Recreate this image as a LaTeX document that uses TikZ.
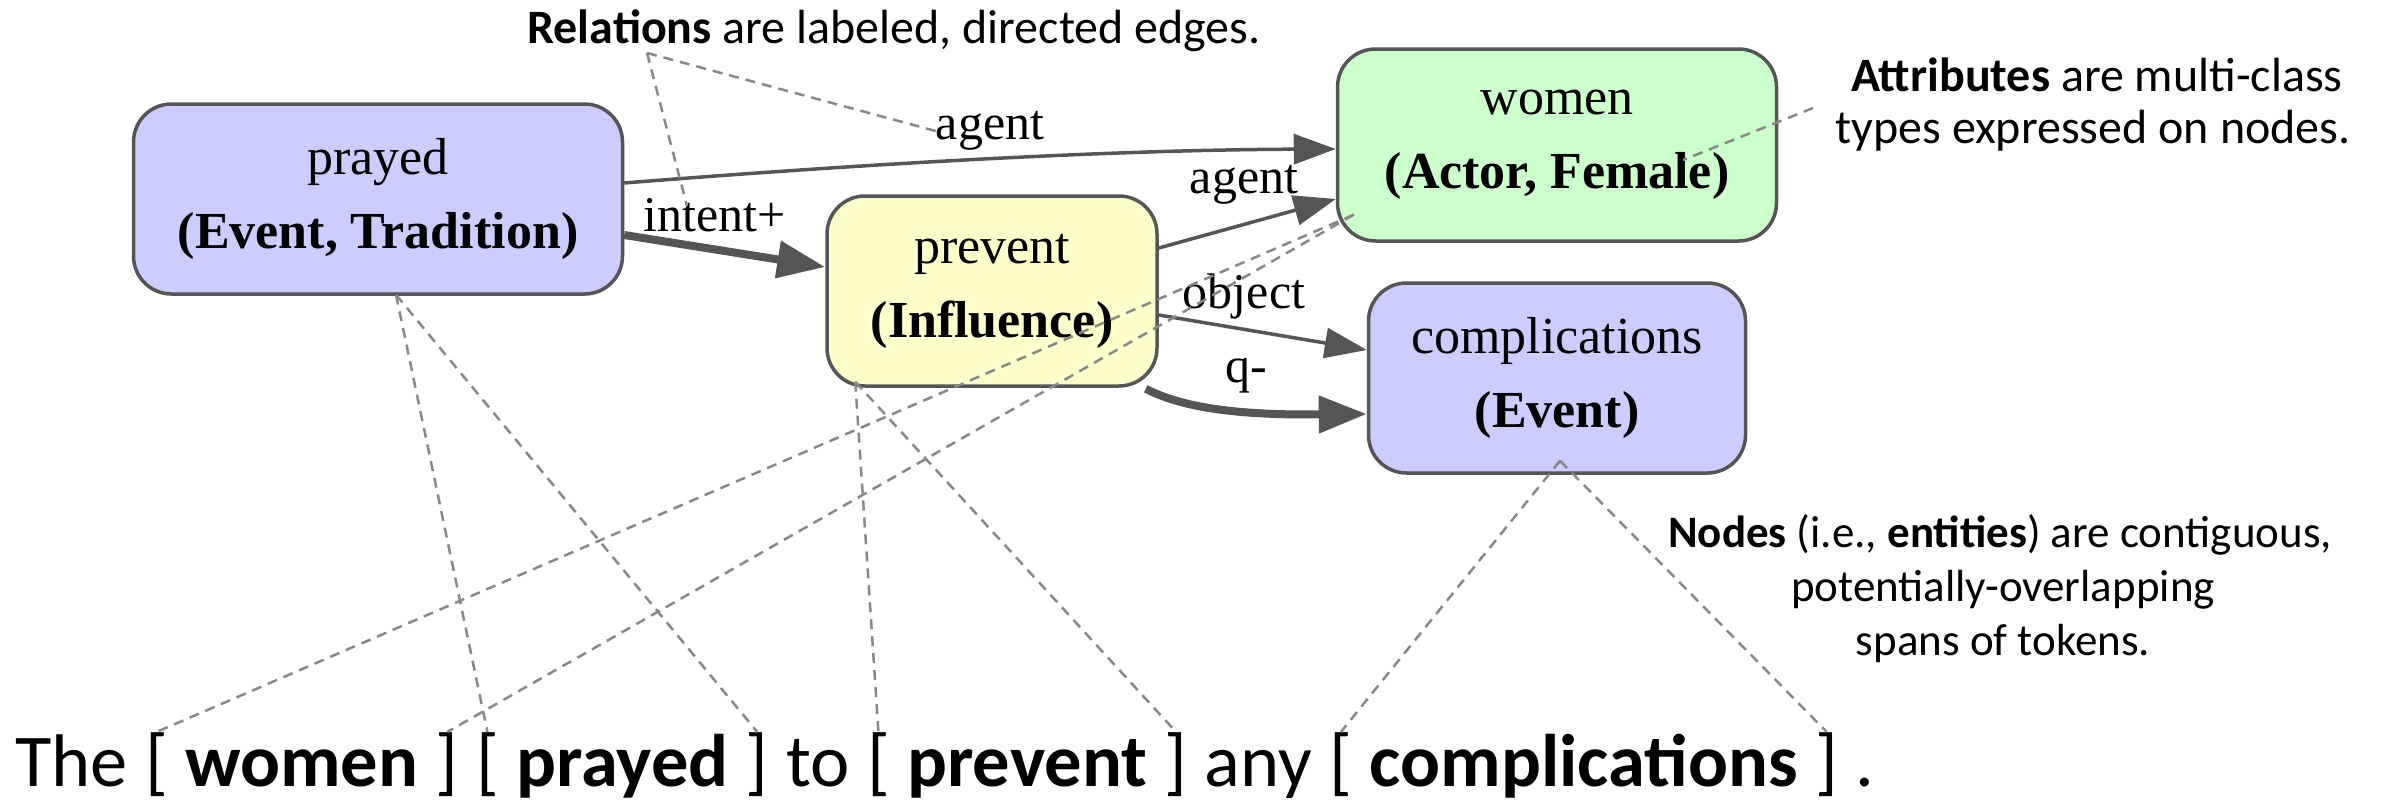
\documentclass[tikz,border=0pt]{standalone}
\usepackage{fontspec}
\setmainfont{Liberation Serif}
\newfontfamily\notefont{Carlito}
\usetikzlibrary{arrows.meta,calc}

\definecolor{edgegray}{HTML}{555555}
\definecolor{dashgray}{HTML}{888888}
\definecolor{lavender}{HTML}{CCCCFF}
\definecolor{mint}{HTML}{CCFFCC}
\definecolor{cream}{HTML}{FFFFCC}

\tikzset{
  ent/.style={draw=edgegray, line width=3.5pt, rounded corners=38pt,
    align=center, inner sep=0pt, font=\fontsize{52}{74}\selectfont},
  elabel/.style={inner sep=0pt, font=\fontsize{50}{60}\selectfont},
  edge/.style={draw=edgegray, line width=3.5pt,
    -{Triangle[length=42pt,width=30pt]}},
  thickedge/.style={draw=edgegray, line width=8pt,
    -{Triangle[length=48pt,width=36pt]}},
  spanline/.style={draw=dashgray, line width=2.5pt, dash pattern=on 10pt off 7pt},
  note/.style={inner sep=0pt, align=center, font=\notefont\fontsize{48}{54}\selectfont},
  smallnote/.style={note, font=\notefont\fontsize{45}{54}\selectfont},
  tok/.style={inner sep=0pt, anchor=base west, font=\notefont\fontsize{74.5}{84}\selectfont},
}

\begin{document}
\begin{tikzpicture}[x=1pt,y=-1pt]
\useasboundingbox (0,0) rectangle (2387,806);

% entity nodes
\node[ent, fill=lavender, minimum width=489pt, minimum height=190pt] (prayed) at (378,199)
  {prayed\\\textbf{(Event, Tradition)}};
\node[ent, fill=mint, minimum width=439pt, minimum height=192pt] (women) at (1557,145)
  {women\\\textbf{(Actor, Female)}};
\node[ent, fill=cream, minimum width=330pt, minimum height=190pt] (prevent) at (992,291)
  {prevent\\\textbf{(Influence)}};
\node[ent, fill=lavender, minimum width=377pt, minimum height=190pt] (compl) at (1557,378)
  {complications\\\textbf{(Event)}};

% relation labels
\node[elabel] (l-agent1) at (990,131) {agent};
\node[elabel] (l-intent) at (715,215) {intent+};
\node[elabel] (l-agent2) at (1244,185) {agent};
\node[elabel] (l-object) at (1244,296) {object};
\node[elabel] (l-q) at (1246,376) {q-};

% relations
\draw[edge] ($(prayed.east)+(0,-16)$) .. controls (850,165) and (1100,150) .. ($(women.west)+(0,4)$);
\draw[thickedge] ($(prayed.east)+(0,36)$) -- ($(prevent.west)+(0,-24)$);
\draw[edge] ($(prevent.east)+(0,-43)$) -- ($(women.west)+(0,54)$);
\draw[edge] ($(prevent.east)+(0,24)$) -- ($(compl.west)+(0,-28)$);
\draw[thickedge] ($(prevent.south east)+(-13,1)$) .. controls (1190,412) and (1260,415) .. ($(compl.west)+(0,36)$);

% sentence tokens
\def\sp{17}
\node[tok] (s-the) at (15,786) {The};
\node[tok] (s-ob1) at ($(s-the.base east)+(\sp,0)$) {[};
\node[tok] (s-women) at ($(s-ob1.base east)+(\sp,0)$) {\textbf{women}};
\node[tok] (s-cb1) at ($(s-women.base east)+(\sp,0)$) {]};
\node[tok] (s-ob2) at ($(s-cb1.base east)+(\sp,0)$) {[};
\node[tok] (s-prayed) at ($(s-ob2.base east)+(\sp,0)$) {\textbf{prayed}};
\node[tok] (s-cb2) at ($(s-prayed.base east)+(\sp,0)$) {]};
\node[tok] (s-to) at ($(s-cb2.base east)+(\sp,0)$) {to};
\node[tok] (s-ob3) at ($(s-to.base east)+(\sp,0)$) {[};
\node[tok] (s-prevent) at ($(s-ob3.base east)+(\sp,0)$) {\textbf{prevent}};
\node[tok] (s-cb3) at ($(s-prevent.base east)+(\sp,0)$) {]};
\node[tok] (s-any) at ($(s-cb3.base east)+(\sp,0)$) {any};
\node[tok] (s-ob4) at ($(s-any.base east)+(\sp,0)$) {[};
\node[tok] (s-compl) at ($(s-ob4.base east)+(\sp,0)$) {\textbf{complications}};
\node[tok] (s-cb4) at ($(s-compl.base east)+(\sp,0)$) {]};
\node[tok] (s-dot) at ($(s-cb4.base east)+(\sp,0)$) {.};

% notes
\node[note, anchor=base] (n-rel) at (894,43) {\textbf{Relations} are labeled, directed edges.};
\node[note, anchor=base] (n-attr1) at (2097,91) {\textbf{Attributes} are multi-class};
\node[note, anchor=base] (n-attr2) at (2093,143) {types expressed on nodes.};
\node[smallnote, anchor=base] (n-nodes1) at (2000,547) {\textbf{Nodes} (i.e., \textbf{entities}) are contiguous,};
\node[smallnote, anchor=base] (n-nodes2) at (2003,601) {potentially-overlapping};
\node[smallnote, anchor=base] (n-nodes3) at (2003,655) {spans of tokens.};

% callout points
\coordinate (relpt) at (647,53);
\coordinate (attrpt) at (1813,108);
\coordinate (attrend) at ($(women.center)+(126,15)$);
\coordinate (w-apex) at ($(women.south west)+(18,-28)$);
\coordinate (p-apex) at ($(prayed.south)+(18,-1)$);
\coordinate (v-apex) at ($(prevent.south west)+(30,-6)$);
\coordinate (c-apex) at ($(compl.south)+(3,-14)$);

% callouts for relations and attributes
\draw[spanline] (relpt) -- (l-agent1.west);
\draw[spanline] (relpt) -- ($(l-intent.north)+(-28,8)$);
\draw[spanline] (attrpt) -- (attrend);

% node-to-span links
\draw[spanline] (w-apex) -- (s-ob1.north);
\draw[spanline] (w-apex) -- (s-cb1.north);
\draw[spanline] (p-apex) -- (s-ob2.north);
\draw[spanline] (p-apex) -- (s-cb2.north);
\draw[spanline] (v-apex) -- (s-ob3.north);
\draw[spanline] (v-apex) -- (s-cb3.north);
\draw[spanline] (c-apex) -- (s-ob4.north);
\draw[spanline] (c-apex) -- (s-cb4.north);
\end{tikzpicture}
\end{document}
